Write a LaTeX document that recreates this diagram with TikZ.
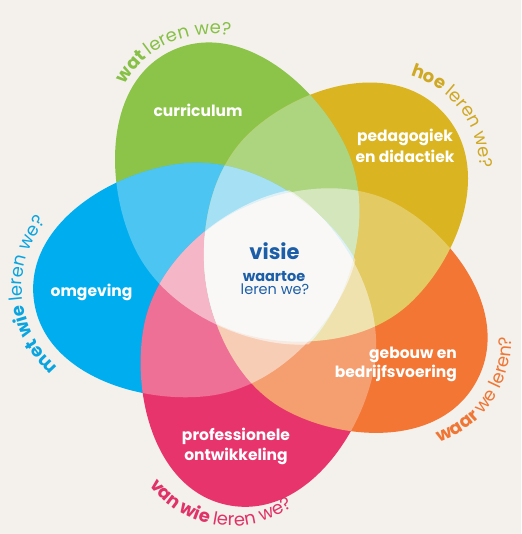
\documentclass[tikz,border=0pt]{standalone}
\usepackage{fontspec}
\setmainfont{Poppins}
\usetikzlibrary{decorations.text}
\definecolor{bg}{RGB}{244,241,236}
\definecolor{pgreen}{RGB}{140,196,74}
\definecolor{pyellow}{RGB}{218,181,33}
\definecolor{porange}{RGB}{243,118,53}
\definecolor{ppink}{RGB}{232,52,108}
\definecolor{pblue}{RGB}{0,174,239}
\definecolor{ovl}{RGB}{252,251,249}
\definecolor{core}{RGB}{249,248,246}
\definecolor{cblue}{RGB}{28,94,168}
\definecolor{tgreen}{RGB}{135,192,70}
\definecolor{tyellow}{RGB}{207,168,36}
\definecolor{tblue}{RGB}{10,165,225}
\definecolor{torange}{RGB}{240,118,52}
\definecolor{tpink}{RGB}{224,50,104}
% petal: #1 options, #2 axis angle, #3 length factor
\newcommand\petal[3]{\path[#1,shift={(274,264)},rotate=#2,xscale=#3] (-82,0) .. controls (-62,52) and (5,117) .. (80,117) .. controls (150,117) and (242,75) .. (242,0) .. controls (242,-75) and (150,-117) .. (80,-117) .. controls (5,-117) and (-62,-52) .. (-82,0) -- cycle;}
\newcommand\pclip[2]{\clip[shift={(274,264)},rotate=#1,xscale=#2] (-82,0) .. controls (-62,52) and (5,117) .. (80,117) .. controls (150,117) and (242,75) .. (242,0) .. controls (242,-75) and (150,-117) .. (80,-117) .. controls (5,-117) and (-62,-52) .. (-82,0) -- cycle;}
\newcommand\labGb{\fontsize{18}{22}\selectfont\bfseries\color{tgreen}}
\newcommand\labGr{\fontsize{18}{22}\selectfont\mdseries\color{tgreen}}
\newcommand\labYb{\fontsize{18}{22}\selectfont\bfseries\color{tyellow}}
\newcommand\labYr{\fontsize{18}{22}\selectfont\mdseries\color{tyellow}}
\newcommand\labBb{\fontsize{18}{22}\selectfont\bfseries\color{tblue}}
\newcommand\labBr{\fontsize{18}{22}\selectfont\mdseries\color{tblue}}
\newcommand\labOb{\fontsize{18}{22}\selectfont\bfseries\color{torange}}
\newcommand\labOr{\fontsize{18}{22}\selectfont\mdseries\color{torange}}
\newcommand\labPb{\fontsize{18}{22}\selectfont\bfseries\color{tpink}}
\newcommand\labPr{\fontsize{18}{22}\selectfont\mdseries\color{tpink}}
\tikzset{
  plabel/.style={text=white,font=\fontsize{15.5}{20}\selectfont\bfseries,inner sep=0pt},
  clabel/.style={text=cblue,inner sep=0pt},
  veil/.style={fill=ovl,fill opacity=0.3},
}
\begin{document}
\begin{tikzpicture}[x=1pt,y=1pt]
\fill[bg] (0,0) rectangle (521,534);
\useasboundingbox (0,0) rectangle (521,534);
% petals: green 115/1, yellow 43/.955, orange -29/.955, pink -101/.99, blue -173/1
\petal{fill=pgreen}{115}{1}
\petal{fill=pblue}{-173}{1}
\petal{fill=ppink}{-101}{.99}
\petal{fill=porange}{-29}{.955}
\petal{fill=pyellow}{43}{.955}
\begin{scope}\pclip{43}{.955}\petal{fill=pgreen}{115}{1}\end{scope}
\begin{scope}\pclip{43}{.955}\pclip{115}{1}\petal{fill=pblue}{-173}{1}\end{scope}
% light overlays on every pairwise overlap
\begin{scope}\pclip{115}{1}\petal{veil}{43}{.955}\end{scope}
\begin{scope}\pclip{115}{1}\petal{veil}{-29}{.955}\end{scope}
\begin{scope}\pclip{115}{1}\petal{veil}{-101}{.99}\end{scope}
\begin{scope}\pclip{115}{1}\petal{veil}{-173}{1}\end{scope}
\begin{scope}\pclip{43}{.955}\petal{veil}{-29}{.955}\end{scope}
\begin{scope}\pclip{43}{.955}\petal{veil}{-101}{.99}\end{scope}
\begin{scope}\pclip{43}{.955}\petal{veil}{-173}{1}\end{scope}
\begin{scope}\pclip{-29}{.955}\petal{veil}{-101}{.99}\end{scope}
\begin{scope}\pclip{-29}{.955}\petal{veil}{-173}{1}\end{scope}
\begin{scope}\pclip{-101}{.99}\petal{veil}{-173}{1}\end{scope}
% white core
\begin{scope}\pclip{115}{1}\pclip{43}{.955}\pclip{-29}{.955}\pclip{-101}{.99}\petal{fill=core}{-173}{1}\end{scope}
% petal labels
\node[plabel,anchor=base] (cur) at (198,417) {curriculum};
\node[plabel,anchor=base] (ped1) at (405,392) {pedagogiek};
\node[plabel,anchor=base] (ped2) at (405,371) {en didactiek};
\node[plabel,anchor=base] (omg) at (91.5,237) {omgeving};
\node[plabel,anchor=base east] (geb1) at (457,175) {gebouw en};
\node[plabel,anchor=base east] (geb2) at (457,156) {bedrijfsvoering};
\node[plabel,anchor=base] (pro1) at (236,93) {professionele};
\node[plabel,anchor=base] (pro2) at (236,73) {ontwikkeling};
% centre
\node[clabel,anchor=base,font=\fontsize{21}{24}\selectfont\bfseries] (vis) at (274.5,274) {visie};
\node[clabel,anchor=base,font=\fontsize{14.5}{16}\selectfont\bfseries] (waa) at (274,252) {waartoe};
\node[clabel,anchor=base,font=\fontsize{14.5}{16}\selectfont] (ler) at (275,239) {leren we?};
% curved questions
\path[decorate,decoration={text along path,text={|\labGb|wat |\labGr|leren we?}}]
  ([shift={(212,399)}]150:101pt) arc[start angle=150,end angle=55,radius=101pt];
\path[decorate,decoration={text along path,text={|\labYb|hoe |\labYr|leren we?}}]
  ([shift={(384,366)}]74:96pt) arc[start angle=74,end angle=-25,radius=96pt];
\path[decorate,decoration={text along path,text={|\labBb|met wie |\labBr|leren we?}}]
  ([shift={(127,246)}]229:105pt) arc[start angle=229,end angle=120,radius=105pt];
\path[decorate,decoration={text along path,text={|\labOb|waar |\labOr|we leren?}}]
  ([shift={(405,192)}]-71:106pt) arc[start angle=-71,end angle=20,radius=106pt];
\path[decorate,decoration={text along path,text={|\labPb|van wie |\labPr|leren we?}}]
  ([shift={(232,111)}]217:103pt) arc[start angle=217,end angle=330,radius=103pt];
\end{tikzpicture}
\end{document}
